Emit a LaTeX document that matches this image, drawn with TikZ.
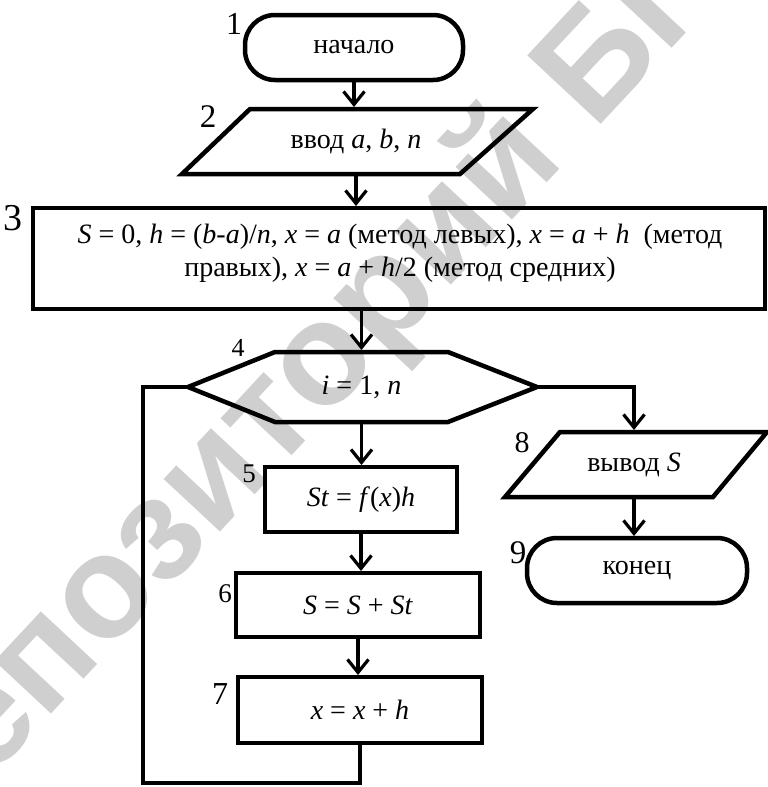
\documentclass[tikz,border=0pt]{standalone}
\usepackage{fontspec}
\setmainfont{Liberation Serif}
\newfontfamily\chartfont{Liberation Serif}
\newfontfamily\wmfont{Liberation Sans}
\usetikzlibrary{arrows.meta}
\newcommand{\vr}[1]{\textit{#1}}
\begin{document}
\begin{tikzpicture}[x=1pt,y=-1pt,
  every node/.style={inner sep=0pt, outer sep=0pt},
  txt/.style={font=\chartfont\fontsize{28}{33}\selectfont},
  shapeline/.style={line width=4.5pt, line join=miter},
  box/.style={draw, shapeline, rectangle, txt},
  term/.style={draw, shapeline, rectangle, rounded corners=30pt, txt},
  link/.style={line width=3.2pt},
  arr/.style={link, -{Straight Barb[length=13pt,width=21pt,line width=3.2pt]}, shorten >=2pt},
  num/.style={font=\chartfont\fontsize{#1}{#1}\selectfont},
  stamp/.style={font=\wmfont\bfseries\fontsize{146}{146}\selectfont, text=black!19}]

\useasboundingbox (0,0) rectangle (768,787);
\clip (0,0) rectangle (768,787);

% repository stamp behind the chart
\node[stamp, rotate=47] (wm) at (326,362) {Репозиторий БГУ};

% 1: start
\node[term, minimum width=218, minimum height=65] (t1) at (354,47.5) {начало};

% 2: input
\node[txt, minimum width=210, minimum height=65] (p2) at (356,141.5) {ввод \vr{a}, \vr{b}, \vr{n}};
\coordinate (p2a) at (250,109);
\coordinate (p2b) at (533,109);
\coordinate (p2c) at (460,174);
\coordinate (p2d) at (182,174);
\draw[shapeline] (p2a) -- (p2b) -- (p2c) -- (p2d) -- cycle;

% 3: initial values
\node[box, minimum width=732, minimum height=101] (r3) at (399,258.5) {};
\node[txt, align=center] (r3t) at (400,253)
  {\vr{S} = 0, \vr{h} = (\vr{b}-\vr{a})/\vr{n}, \vr{x} = \vr{a} (метод левых), \vr{x} = \vr{a} + \vr{h}\ \ (метод\\
   правых), \vr{x} = \vr{a} + \vr{h}/2 (метод средних)};

% 4: loop header
\node[txt, minimum width=173, minimum height=70] (h4) at (361.5,387) {\vr{i} = 1, \vr{n}};
\coordinate (h4l) at (188,387);
\coordinate (h4r) at (537,387);
\draw[shapeline] (h4l) -- (275,352) -- (448,352) -- (h4r) -- (448,422) -- (275,422) -- cycle;

% 5-7: loop body
\node[box, minimum width=192, minimum height=65] (b5) at (361,499.5) {\vr{St} = \vr{f}(\vr{x})\vr{h}};
\node[box, minimum width=244, minimum height=64] (b6) at (358,605) {\vr{S} = \vr{S} + \vr{St}};
\node[box, minimum width=244, minimum height=66] (b7) at (360,710) {\vr{x} = \vr{x} + \vr{h}};

% 8: output
\node[txt, minimum width=150, minimum height=65] (p8) at (634,464.5) {вывод \vr{S}};
\draw[shapeline] (560,432) -- (767,432) -- (713,497) -- (505,497) -- cycle;

% 9: end
\node[term, minimum width=220, minimum height=65] (t9) at (637,570.5) {конец};

% block numbers
\node[num=32] (n1) at (234,24) {1};
\node[num=33] (n2) at (208,117) {2};
\node[num=38] (n3) at (13,218) {3};
\node[num=26] (n4) at (238,348) {4};
\node[num=27] (n5) at (249,474) {5};
\node[num=27] (n6) at (225,594) {6};
\node[num=32] (n7) at (220,694) {7};
\node[num=30] (n8) at (522,443) {8};
\node[num=33] (n9) at (518,553) {9};

% connectors
\draw[arr] (t1.south) -- (t1.south |- p2.north);
\draw[arr] (p2.south) -- (p2.south |- r3.north);
\draw[arr] (h4.north |- r3.south) -- (h4.north);
\draw[arr] (h4.south) -- (h4.south |- b5.north);
\draw[arr] (b5.south) -- (b5.south |- b6.north);
\draw[arr] (b6.south) -- (b6.south |- b7.north);
\coordinate (lb) at (143,783);
\draw[link] (b7.south) |- (lb) |- (h4l);
\draw[arr] (h4r) -| (p8.north);
\draw[arr] (p8.south) -- (p8.south |- t9.north);
\end{tikzpicture}
\end{document}
